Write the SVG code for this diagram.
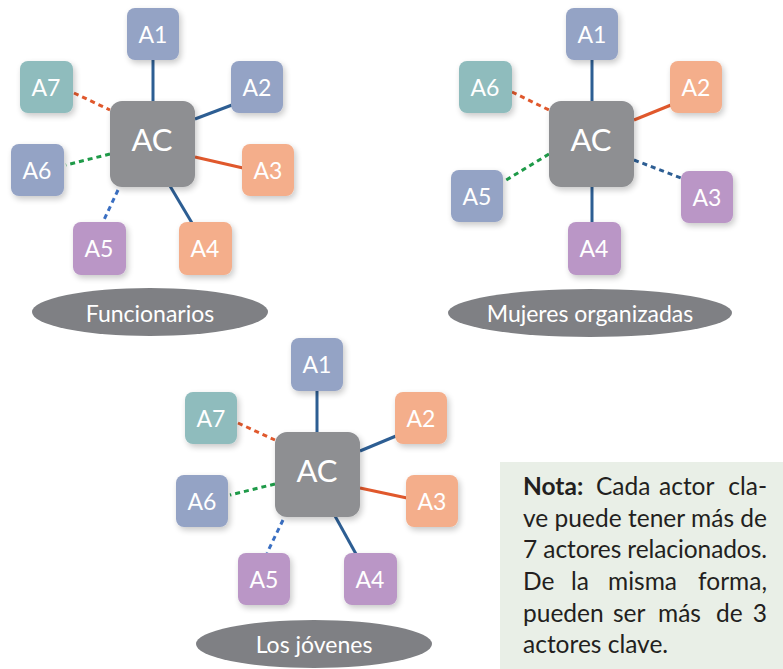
<svg xmlns="http://www.w3.org/2000/svg" width="783" height="669" viewBox="0 0 783 669">
<defs>
<filter id="sh" x="-30%" y="-30%" width="160%" height="160%">
<feGaussianBlur in="SourceAlpha" stdDeviation="3"/>
<feOffset dx="2" dy="3" result="b"/>
<feComponentTransfer><feFuncA type="linear" slope="0.22"/></feComponentTransfer>
<feMerge><feMergeNode/><feMergeNode in="SourceGraphic"/></feMerge>
</filter>
<style>
.n rect{filter:url(#sh)}
.blue{fill:#94a3c5}
.teal{fill:#8fbcbd}
.orange{fill:#f4ae8b}
.purple{fill:#ba96c6}
.ac{fill:#8e8f92}
.lbl{font-family:Lato,"Open Sans",sans-serif;fill:#fff;font-size:23px;text-anchor:middle}
.aclbl{font-family:Lato,"Open Sans",sans-serif;fill:#fff;font-size:31px;text-anchor:middle}
.ell{fill:#7f8084}
.elbl{font-family:Lato,"Open Sans",sans-serif;fill:#fff;font-size:23px;text-anchor:middle}
.c{stroke-width:3;fill:none}
.sb{stroke:#2d5e93}
.so{stroke:#e0582c}
.dg{stroke:#1e9a48;stroke-dasharray:5 4}
.do{stroke:#e0582c;stroke-dasharray:5 4}
.db{stroke:#3a6fc2;stroke-dasharray:5 4}
.dn{stroke:#2d5e93;stroke-dasharray:5 4}
.note{font-family:Lato,"Open Sans",sans-serif;fill:#231f20;font-size:24.5px}
.end{text-anchor:end}
</style>
</defs>
<rect width="783" height="669" fill="#fff"/>

<g id="connectors">
<!-- diagram 1 -->
<line class="c sb" x1="153" y1="60" x2="153" y2="102"/>
<line class="c sb" x1="195" y1="119" x2="232" y2="105"/>
<line class="c so" x1="195" y1="157" x2="243" y2="168"/>
<line class="c sb" x1="170" y1="186" x2="192" y2="223"/>
<line class="c db" x1="118" y1="190" x2="103" y2="222"/>
<line class="c dg" x1="110" y1="154" x2="66" y2="165"/>
<line class="c do" x1="74" y1="93" x2="110" y2="110"/>
<!-- diagram 2 -->
<line class="c sb" x1="592" y1="60" x2="592" y2="102"/>
<line class="c so" x1="634" y1="120" x2="671" y2="105"/>
<line class="c dn" x1="634" y1="160" x2="681" y2="178"/>
<line class="c sb" x1="592" y1="186" x2="592" y2="223"/>
<line class="c dg" x1="549" y1="154" x2="503" y2="182"/>
<line class="c do" x1="512" y1="92" x2="549" y2="110"/>
<!-- diagram 3 -->
<line class="c sb" x1="317" y1="391" x2="317" y2="433"/>
<line class="c sb" x1="360" y1="451" x2="396" y2="436"/>
<line class="c so" x1="360" y1="488" x2="407" y2="498"/>
<line class="c sb" x1="335" y1="516" x2="356" y2="554"/>
<line class="c db" x1="283" y1="520" x2="267" y2="553"/>
<line class="c dg" x1="275" y1="484" x2="230" y2="495"/>
<line class="c do" x1="238" y1="423" x2="275" y2="440"/>
</g>

<!-- Diagram 1: Funcionarios -->
<g id="d1-A1" class="n"><rect class="blue" x="127" y="8" width="52" height="52" rx="8"/><text class="lbl" x="153" y="43">A1</text></g>
<g id="d1-A2" class="n"><rect class="blue" x="231" y="61" width="52" height="52" rx="8"/><text class="lbl" x="257" y="96">A2</text></g>
<g id="d1-A3" class="n"><rect class="orange" x="242" y="144" width="52" height="52" rx="8"/><text class="lbl" x="268" y="179">A3</text></g>
<g id="d1-A4" class="n"><rect class="orange" x="179" y="222" width="53" height="53" rx="8"/><text class="lbl" x="205" y="257">A4</text></g>
<g id="d1-A5" class="n"><rect class="purple" x="73" y="222" width="53" height="53" rx="8"/><text class="lbl" x="99" y="257">A5</text></g>
<g id="d1-A6" class="n"><rect class="blue" x="11" y="144" width="53" height="52" rx="8"/><text class="lbl" x="37" y="179">A6</text></g>
<g id="d1-A7" class="n"><rect class="teal" x="20" y="61" width="53" height="52" rx="8"/><text class="lbl" x="46" y="96">A7</text></g>
<g id="d1-AC" class="n"><rect class="ac" x="110" y="101" width="85" height="86" rx="12"/><text class="aclbl" x="152" y="151">AC</text></g>
<g id="d1-label"><ellipse class="ell" cx="150" cy="312" rx="118" ry="24"/><text class="elbl" x="150" y="322">Funcionarios</text></g>

<!-- Diagram 2: Mujeres organizadas -->
<g id="d2-A1" class="n"><rect class="blue" x="566" y="8" width="52" height="52" rx="8"/><text class="lbl" x="592" y="43">A1</text></g>
<g id="d2-A2" class="n"><rect class="orange" x="670" y="61" width="52" height="52" rx="8"/><text class="lbl" x="696" y="96">A2</text></g>
<g id="d2-A3" class="n"><rect class="purple" x="681" y="171" width="52" height="52" rx="8"/><text class="lbl" x="707" y="206">A3</text></g>
<g id="d2-A4" class="n"><rect class="purple" x="568" y="222" width="53" height="53" rx="8"/><text class="lbl" x="594" y="257">A4</text></g>
<g id="d2-A5" class="n"><rect class="blue" x="451" y="170" width="52" height="52" rx="8"/><text class="lbl" x="477" y="205">A5</text></g>
<g id="d2-A6" class="n"><rect class="teal" x="459" y="61" width="53" height="52" rx="8"/><text class="lbl" x="485" y="96">A6</text></g>
<g id="d2-AC" class="n"><rect class="ac" x="549" y="101" width="85" height="86" rx="12"/><text class="aclbl" x="591" y="151">AC</text></g>
<g id="d2-label"><ellipse class="ell" cx="590" cy="313" rx="142" ry="24"/><text class="elbl" x="590" y="322">Mujeres organizadas</text></g>

<!-- Diagram 3: Los jóvenes -->
<g id="d3-A1" class="n"><rect class="blue" x="291" y="338" width="52" height="53" rx="8"/><text class="lbl" x="317" y="373">A1</text></g>
<g id="d3-A2" class="n"><rect class="orange" x="395" y="392" width="52" height="52" rx="8"/><text class="lbl" x="421" y="427">A2</text></g>
<g id="d3-A3" class="n"><rect class="orange" x="406" y="475" width="52" height="52" rx="8"/><text class="lbl" x="432" y="510">A3</text></g>
<g id="d3-A4" class="n"><rect class="purple" x="344" y="553" width="53" height="52" rx="8"/><text class="lbl" x="370" y="588">A4</text></g>
<g id="d3-A5" class="n"><rect class="purple" x="238" y="553" width="52" height="52" rx="8"/><text class="lbl" x="264" y="588">A5</text></g>
<g id="d3-A6" class="n"><rect class="blue" x="176" y="475" width="52" height="52" rx="8"/><text class="lbl" x="202" y="510">A6</text></g>
<g id="d3-A7" class="n"><rect class="teal" x="185" y="392" width="52" height="52" rx="8"/><text class="lbl" x="211" y="427">A7</text></g>
<g id="d3-AC" class="n"><rect class="ac" x="275" y="432" width="85" height="85" rx="12"/><text class="aclbl" x="317" y="482">AC</text></g>
<g id="d3-label"><ellipse class="ell" cx="314" cy="644" rx="118" ry="24"/><text class="elbl" x="314" y="653">Los jóvenes</text></g>

<!-- Note -->
<g id="note">
<rect x="500" y="462" width="283" height="207" fill="#e9efe7"/>
<text class="note" y="495"><tspan x="523" font-weight="bold">Nota:</tspan><tspan x="596">Cada</tspan><tspan x="659">actor</tspan></text>
<text class="note end" x="767" y="495">cla-</text>
<text class="note" x="523" y="527" textLength="244" lengthAdjust="spacing">ve puede tener más de</text>
<text class="note" x="523" y="558" textLength="244" lengthAdjust="spacing">7 actores relacionados.</text>
<text class="note" y="590"><tspan x="523">De</tspan><tspan x="571">la</tspan><tspan x="608">misma</tspan></text>
<text class="note end" x="767" y="590">forma,</text>
<text class="note" y="622"><tspan x="523">pueden</tspan><tspan x="613">ser</tspan><tspan x="658">más</tspan><tspan x="716">de</tspan></text>
<text class="note end" x="767" y="622">3</text>
<text class="note" x="523" y="653">actores clave.</text>
</g>
</svg>
